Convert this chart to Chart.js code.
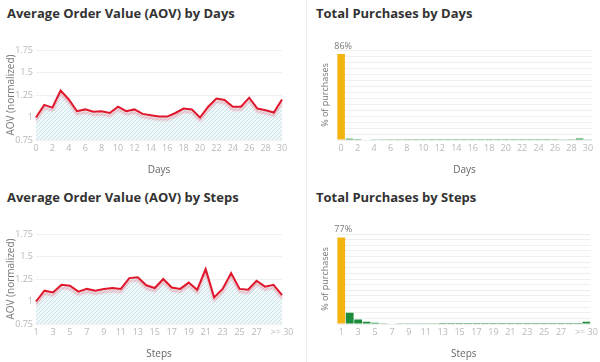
<!DOCTYPE html>
<html>
<head>
<meta charset="utf-8">
<script src="https://cdn.jsdelivr.net/npm/chart.js@4"></script>
<style>
  body { margin: 0; background: #fff; font-family: "Open Sans", sans-serif; }
  #wrap { position: relative; width: 600px; height: 362px; overflow: hidden; background: #fff; }
  .panel { position: absolute; height: 184px; }
  .panel.right { border-left: 1px solid #ececec; }
  .title { position: absolute; left: 7px; top: 4px; font-size: 13px; line-height: 18px; font-weight: 700; color: #333; white-space: nowrap; }
  .right .title { left: 9px; }
  .box { position: absolute; left: 0; top: 28px; width: 100%; height: 156px; }
</style>
</head>
<body>
<div id="wrap">
  <div class="panel" style="left:0;top:0;width:300px">
    <div class="title">Average Order Value (AOV) by Days</div>
    <div class="box"><canvas id="aovDays"></canvas></div>
  </div>
  <div class="panel right" style="left:306px;top:0;width:294px">
    <div class="title">Total Purchases by Days</div>
    <div class="box"><canvas id="buyDays"></canvas></div>
  </div>
  <div class="panel" style="left:0;top:184px;width:300px">
    <div class="title">Average Order Value (AOV) by Steps</div>
    <div class="box"><canvas id="aovSteps"></canvas></div>
  </div>
  <div class="panel right" style="left:306px;top:184px;width:294px">
    <div class="title">Total Purchases by Steps</div>
    <div class="box"><canvas id="buySteps"></canvas></div>
  </div>
</div>
<script>
// Data
const dayLabels = Array.from({ length: 31 }, (_, i) => String(i));
const stepLabels = ['1','2','3','4','5','6','7','8','9','10','11','12','13','14','15',
  '16','17','18','19','20','21','22','23','24','25','26','27','28','29','>= 30'];

const aovByDays = [1.0, 1.14, 1.11, 1.30, 1.2, 1.07, 1.09, 1.065, 1.07, 1.05, 1.12,
  1.07, 1.09, 1.04, 1.025, 1.01, 1.01, 1.05, 1.10, 1.09, 1.0, 1.12, 1.21, 1.195,
  1.12, 1.12, 1.22, 1.10, 1.08, 1.055, 1.20];

const aovBySteps = [1.0, 1.12, 1.10, 1.185, 1.175, 1.11, 1.14, 1.12, 1.14, 1.15,
  1.14, 1.26, 1.27, 1.18, 1.15, 1.25, 1.155, 1.14, 1.21, 1.13, 1.36, 1.045, 1.14,
  1.315, 1.14, 1.13, 1.23, 1.165, 1.185, 1.07];

const purchasesByDays = [86, 1.3, 0.9, 0.5, 0.3, 0.25, 0.2, 0.2, 0.15, 0.15, 0.15,
  0.1, 0.1, 0.1, 0.1, 0.1, 0.1, 0.1, 0.1, 0.1, 0.1, 0.1, 0.1, 0.1, 0.1, 0.1, 0.15,
  0.3, 0.8, 1.5, 0.3];

const purchasesBySteps = [77, 10, 4, 2, 1.2, 0.7, 0.4, 0.3, 0.25, 0.2, 0.15, 0.15,
  0.1, 0.1, 0.1, 0.1, 0.1, 0.1, 0.1, 0.1, 0.1, 0.1, 0.1, 0.1, 0.1, 0.1, 0.1, 0.1,
  0.1, 2];

const aovTicks = [0.75, 1, 1.25, 1.5, 1.75];

// Colors
const red = '#e0162b';
const yellow = '#f2b410';
const green = '#1b8c3a';
const tickColor = '#b8b8b8';
const axisTitleColor = '#666';

function hatchPattern() {
  const c = document.createElement('canvas');
  c.width = 4;
  c.height = 4;
  const x = c.getContext('2d');
  x.fillStyle = 'rgba(236,246,249,0.8)';
  x.fillRect(0, 0, 4, 4);
  x.strokeStyle = 'rgba(185,218,228,0.75)';
  x.lineWidth = 1;
  x.beginPath();
  x.moveTo(0, 4); x.lineTo(4, 0);
  x.moveTo(-1, 1); x.lineTo(1, -1);
  x.moveTo(3, 5); x.lineTo(5, 3);
  x.stroke();
  return x.createPattern(c, 'repeat');
}

// soft red shadow under the line
const lineShadow = {
  id: 'lineShadow',
  beforeDatasetDraw(chart) {
    const ctx = chart.ctx;
    ctx.save();
    ctx.shadowColor = 'rgba(235,60,80,0.35)';
    ctx.shadowBlur = 2;
    ctx.shadowOffsetY = 3;
  },
  afterDatasetDraw(chart) {
    chart.ctx.restore();
  }
};

// "86%" label above the biggest bar
const maxLabel = {
  id: 'maxLabel',
  afterDatasetsDraw(chart) {
    const data = chart.data.datasets[0].data;
    const i = data.indexOf(Math.max(...data));
    const bar = chart.getDatasetMeta(0).data[i];
    const ctx = chart.ctx;
    ctx.save();
    ctx.font = '9px "Open Sans"';
    ctx.fillStyle = '#777';
    ctx.textAlign = 'center';
    ctx.textBaseline = 'bottom';
    ctx.fillText(data[i] + '%', bar.x + 2, bar.y - 3);
    ctx.restore();
  }
};

Chart.defaults.font.family = '"Open Sans", sans-serif';
Chart.defaults.animation = false;

function everyOther(labels) {
  return function (value, index) {
    const last = labels.length - 1;
    if (index === last) return labels[index];
    if (index % 2 === 0 && index !== last - 1) return labels[index];
    return null;
  };
}

function aovChart(id, labels, values, xTitle) {
  new Chart(document.getElementById(id), {
    type: 'line',
    data: {
      labels: labels,
      datasets: [{
        data: values,
        borderColor: red,
        borderWidth: 2,
        backgroundColor: hatchPattern(),
        fill: 'start',
        pointRadius: 0,
        tension: 0
      }]
    },
    options: {
      responsive: true,
      maintainAspectRatio: false,
      layout: { padding: { top: 22, right: 18, left: 0, bottom: 0 } },
      plugins: { legend: { display: false }, tooltip: { enabled: false } },
      scales: {
        x: {
          grid: { display: false, drawTicks: false },
          border: { display: false },
          ticks: {
            color: tickColor, font: { size: 9 }, padding: 3,
            maxRotation: 0, autoSkip: false, callback: everyOther(labels)
          },
          title: { display: true, text: xTitle, color: axisTitleColor, font: { size: 10 }, padding: { top: 4, bottom: 8 } },
          afterFit: s => { s.height = 44; }
        },
        y: {
          min: aovTicks[0],
          max: aovTicks[aovTicks.length - 1],
          afterBuildTicks: s => { s.ticks = aovTicks.map(v => ({ value: v })); },
          grid: { color: '#f0f0f0', drawTicks: false },
          border: { display: false },
          ticks: { color: tickColor, font: { size: 9 }, padding: 3, callback: v => String(v) },
          title: { display: true, text: 'AOV (normalized)', color: '#777', font: { size: 10 }, padding: { top: 5, bottom: 0 } },
          afterFit: s => { s.width = 36; }
        }
      }
    },
    plugins: [lineShadow]
  });
}

function purchaseChart(id, labels, values, xTitle, yMax, yStep) {
  new Chart(document.getElementById(id), {
    type: 'bar',
    data: {
      labels: labels,
      datasets: [{
        data: values,
        backgroundColor: values.map((v, i) => i === 0 ? yellow : green),
        barPercentage: 0.92,
        categoryPercentage: 1
      }]
    },
    options: {
      responsive: true,
      maintainAspectRatio: false,
      layout: { padding: { top: 22, right: 9, left: 0, bottom: 0 } },
      plugins: { legend: { display: false }, tooltip: { enabled: false } },
      scales: {
        x: {
          grid: { display: false, drawTicks: false },
          border: { display: false },
          ticks: {
            color: tickColor, font: { size: 9 }, padding: 3,
            maxRotation: 0, autoSkip: false, callback: everyOther(labels)
          },
          title: { display: true, text: xTitle, color: axisTitleColor, font: { size: 10 }, padding: { top: 4, bottom: 8 } },
          afterFit: s => { s.height = 44; }
        },
        y: {
          min: 0,
          max: yMax,
          ticks: { display: false, stepSize: yStep },
          grid: { color: '#efefef', drawTicks: false },
          border: { display: false },
          title: { display: true, text: '% of purchases', color: '#777', font: { size: 9 }, padding: { top: 13, bottom: 0 } },
          afterFit: s => { s.width = 30; }
        }
      }
    },
    plugins: [maxLabel]
  });
}

aovChart('aovDays', dayLabels, aovByDays, 'Days');
purchaseChart('buyDays', dayLabels, purchasesByDays, 'Days', 90, 6);
aovChart('aovSteps', stepLabels, aovBySteps, 'Steps');
purchaseChart('buySteps', stepLabels, purchasesBySteps, 'Steps', 80, 5);
</script>
</body>
</html>
